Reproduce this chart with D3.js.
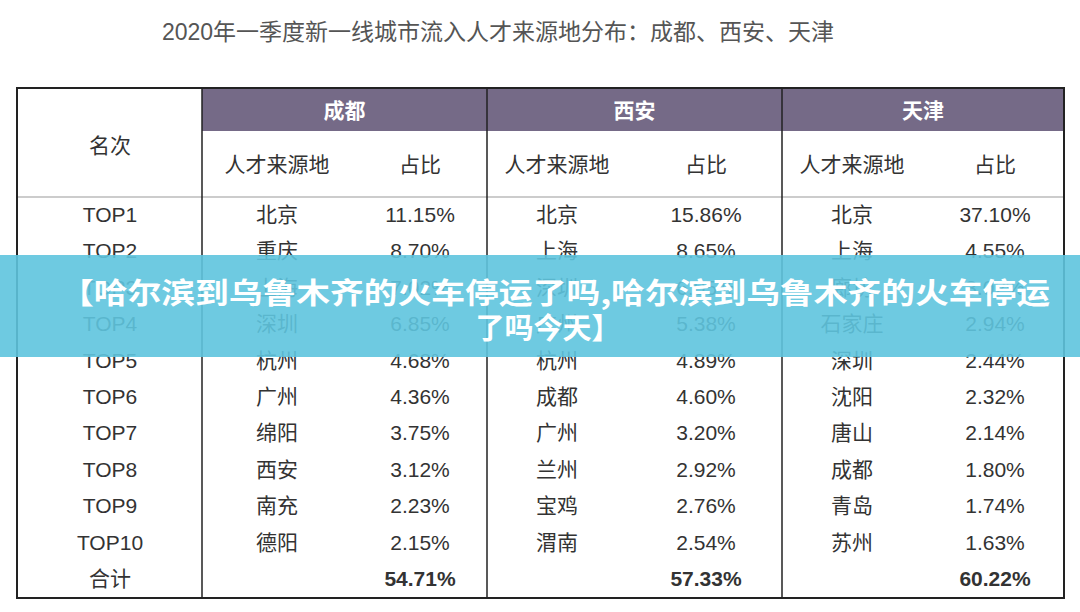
<!DOCTYPE html><html><head><meta charset="utf-8">
<script src="https://cdn.jsdelivr.net/npm/d3@7"></script>
<style>body{margin:0;background:#fff}svg{display:block}</style></head><body>
<svg width="1080" height="612"></svg>
<script>
const ranks=["TOP1","TOP2","TOP3","TOP4","TOP5","TOP6","TOP7","TOP8","TOP9","TOP10"];
const cities=["成都","西安","天津"];
const chengduSrc=["北京","重庆","上海","深圳","杭州","广州","绵阳","西安","南充","德阳"];
const chengduPct=[11.15,8.70,7.02,6.85,4.68,4.36,3.75,3.12,2.23,2.15];
const xianSrc=["北京","上海","深圳","广州","杭州","成都","广州","兰州","宝鸡","渭南"];
const xianPct=[15.86,8.65,6.05,5.38,4.89,4.60,3.20,2.92,2.76,2.54];
const tianjinSrc=["北京","上海","廊坊","石家庄","深圳","沈阳","唐山","成都","青岛","苏州"];
const tianjinPct=[37.10,4.55,3.02,2.94,2.44,2.32,2.14,1.80,1.74,1.63];
const totals=["54.71%","57.33%","60.22%"];
const svg=d3.select("svg");
const F="'Liberation Sans','Noto Sans CJK SC',sans-serif";
const L=17,R=1064,T=88;
const colX=[202,487,782,R];
svg.append("text").attr("x",498).attr("y",32).attr("text-anchor","middle").attr("dominant-baseline","central").attr("font-family",F).attr("font-size",23).attr("fill","#555").text("2020年一季度新一线城市流入人才来源地分布：成都、西安、天津");
svg.append("rect").attr("x",202).attr("y",T).attr("width",R-202).attr("height",43).attr("fill","#756a87");
const y=d3.scaleBand().domain([...ranks,"合计"]).range([197,598]);
svg.append("line").attr("x1",L).attr("x2",R).attr("y1",197).attr("y2",197).attr("stroke","#999");
svg.append("rect").attr("x",L).attr("y",T).attr("width",R-L).attr("height",598-T).attr("fill","none").attr("stroke","#222").attr("stroke-width",2);
[202,487,782].forEach(x=>svg.append("line").attr("x1",x).attr("x2",x).attr("y1",T).attr("y2",598).attr("stroke","#222").attr("stroke-width",1.5));
const txt=(x,yy,s,o={})=>svg.append("text").attr("x",x).attr("y",yy).attr("text-anchor","middle").attr("dominant-baseline","central").attr("font-family",F).attr("font-size",o.size||21).attr("font-weight",o.bold?700:400).attr("fill",o.fill||"#333").text(s);
txt(110,145,"名次");
cities.forEach((c,i)=>{const cx=(colX[i]+colX[i+1])/2;txt(cx,110,c,{fill:"#fff",bold:true});});
const cityC=[277,557,852],pctC=[420,706,995];
cities.forEach((c,i)=>{txt(cityC[i],164,"人才来源地");txt(pctC[i],164,"占比");});
const srcs=[chengduSrc,xianSrc,tianjinSrc],pcts=[chengduPct,xianPct,tianjinPct];
const cy=d=>y(d)+y.bandwidth()/2-1;
ranks.forEach((r,j)=>{txt(110,cy(r),r);
  srcs.forEach((s,i)=>{txt(cityC[i],cy(r),s[j]);txt(pctC[i],cy(r),pcts[i][j].toFixed(2)+"%");});});
txt(110,cy("合计"),"合计");
totals.forEach((t,i)=>txt(pctC[i],cy("合计"),t,{bold:true}));
svg.append("rect").attr("x",0).attr("y",255).attr("width",1080).attr("height",102).attr("fill","#5ec4de").attr("opacity",0.9);
const bf="'Noto Sans CJK SC',sans-serif";
svg.append("text").attr("x",555).attr("y",291).attr("text-anchor","middle").attr("dominant-baseline","central").attr("font-family",bf).attr("font-size",29).attr("font-weight",700).attr("fill","#fff").attr("textLength",990).attr("lengthAdjust","spacingAndGlyphs").text("【哈尔滨到乌鲁木齐的火车停运了吗,哈尔滨到乌鲁木齐的火车停运");
svg.append("text").attr("x",548).attr("y",326).attr("text-anchor","middle").attr("dominant-baseline","central").attr("font-family",bf).attr("font-size",29).attr("font-weight",700).attr("fill","#fff").text("了吗今天】");
</script></body></html>
